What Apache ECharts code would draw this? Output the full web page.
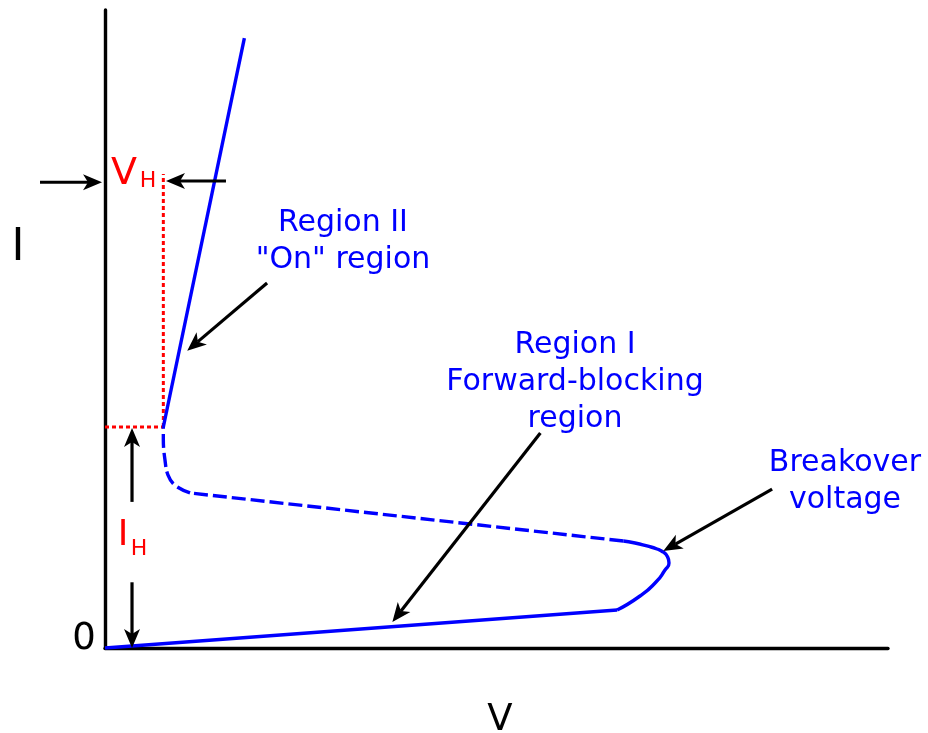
<!DOCTYPE html>
<html>
<head>
<meta charset="utf-8">
<title>Thyristor I-V characteristic</title>
<script src="https://cdn.jsdelivr.net/npm/echarts@6/dist/echarts.min.js"></script>
<style>
  html, body { margin: 0; padding: 0; background: #fff; }
  #chart { width: 928px; height: 733px; }
</style>
</head>
<body>
<div id="chart"></div>
<script>
// Anode voltage V (x) and anode current I (y), both in relative units 0..100.

// Forward-blocking region: small leakage current rising slowly with voltage
const forwardBlocking = [[0, 0], [65.4, 5.96]];
// Knee around the breakover voltage
const breakoverBend = [
  [65.4, 5.96], [68.33, 8.15], [70.37, 10.34], [71.52, 12.23], [72.03, 13.32],
  [71.78, 14.42], [71.26, 15.05], [70.5, 15.52], [69.22, 15.99], [67.69, 16.46], [66.2, 16.77]
];
// Negative-resistance transition (unstable, drawn dashed)
const transition = [[66.2, 16.77], [10.86, 24.3]];
const holdingBend = [
  [10.86, 24.3], [8.94, 25.5], [8.05, 27.1], [7.66, 29.47], [7.45, 32.6], [7.45, 34.64]
];
// "On" region: steep conduction line above the holding current
const onRegion = [[7.45, 34.64], [17.8, 95.6]];

// Holding point markers
const holdingVoltage = 7.45;
const holdingCurrent = 34.64;
const vhMarkerTop = 74.3;
const vhGuide = [[holdingVoltage, holdingCurrent], [holdingVoltage, vhMarkerTop]];
const ihGuide = [[0, holdingCurrent], [holdingVoltage, holdingCurrent]];

// Annotation arrows: [fromV, fromI, toV, toI]
const arrows = [
  [-8.3, 73.0, -0.38, 73.0],     // V_H, from the left
  [15.45, 73.2, 7.79, 73.2],     // V_H, from the right
  [3.45, 22.9, 3.45, 34.5],      // I_H, upward
  [3.45, 10.3, 3.45, 0],         // I_H, downward
  [20.7, 57.2, 10.5, 46.6],      // "On" region
  [55.6, 33.7, 36.7, 4.08],      // forward-blocking region
  [85.2, 24.9, 71.3, 15.2]       // breakover voltage
];

const BLUE = '#0000ff';
const RED = '#ff0000';
const FONT = '"DejaVu Sans", "Noto Sans", sans-serif';

function curve(data, dashed, smooth) {
  return {
    type: 'line',
    data: data,
    showSymbol: false,
    smooth: smooth || false,
    lineStyle: { color: BLUE, width: 3.4, type: dashed ? [14, 5] : 'solid', cap: 'butt', join: 'round' },
    z: 3
  };
}

function guide(data) {
  return {
    type: 'line',
    data: data,
    showSymbol: false,
    lineStyle: { color: RED, width: 3, type: [4, 3] },
    z: 2
  };
}

function renderArrow(params, api) {
  const p1 = api.coord([api.value(0), api.value(1)]);
  const p2 = api.coord([api.value(2), api.value(3)]);
  const dx = p2[0] - p1[0], dy = p2[1] - p1[1];
  const len = Math.hypot(dx, dy);
  const ux = dx / len, uy = dy / len;
  const nx = -uy, ny = ux;
  const L = 19, W = 8, N = 14;
  const back = [p2[0] - ux * L, p2[1] - uy * L];
  const notch = [p2[0] - ux * N, p2[1] - uy * N];
  return {
    type: 'group',
    children: [
      { type: 'line', shape: { x1: p1[0], y1: p1[1], x2: notch[0], y2: notch[1] },
        style: { stroke: '#000', lineWidth: 3.2 } },
      { type: 'polygon',
        shape: { points: [p2, [back[0] + nx * W, back[1] + ny * W], notch, [back[0] - nx * W, back[1] - ny * W]] },
        style: { fill: '#000' } }
    ]
  };
}

function label(text, x, y, size, color, lineHeight) {
  return {
    type: 'text', x: x, y: y, z: 10,
    style: {
      text: text, fill: color, font: size + 'px ' + FONT,
      align: 'center', verticalAlign: 'middle', lineHeight: lineHeight || Math.round(size * 1.3)
    }
  };
}

const chart = echarts.init(document.getElementById('chart'), null, { renderer: 'canvas' });
chart.setOption({
  animation: false,
  backgroundColor: '#fff',
  grid: { left: 105, right: 40, top: 10, bottom: 85 },
  xAxis: {
    type: 'value', min: 0, max: 100,
    axisLine: { show: true, lineStyle: { color: '#000', width: 3.4 } },
    axisTick: { show: false }, axisLabel: { show: false }, splitLine: { show: false }
  },
  yAxis: {
    type: 'value', min: 0, max: 100,
    axisLine: { show: true, lineStyle: { color: '#000', width: 3.4 } },
    axisTick: { show: false }, axisLabel: { show: false }, splitLine: { show: false }
  },
  series: [
    guide(vhGuide),
    guide(ihGuide),
    curve(forwardBlocking, false, false),
    curve(breakoverBend, false, 0.6),
    curve(transition, true, false),
    curve(holdingBend, true, 0.4),
    curve(onRegion, false, false),
    {
      type: 'custom',
      data: arrows,
      renderItem: renderArrow,
      encode: { x: [0, 2], y: [1, 3] },
      clip: false,
      silent: true,
      z: 5
    }
  ],
  graphic: [
    label('I', 18, 249, 44, '#000'),
    label('0', 84, 639, 37, '#000'),
    label('V', 500, 720, 37, '#000'),
    label('V', 124, 174, 38, RED),
    label('H', 148, 181, 22, RED),
    label('I', 123, 536, 36, RED),
    label('H', 139, 549, 22, RED),
    label('Region II\n"On" region', 343, 242, 30, BLUE, 37),
    label('Region I\nForward-blocking\nregion', 575, 382, 30, BLUE, 37),
    label('Breakover\nvoltage', 845, 482, 30, BLUE, 37)
  ]
});
</script>
</body>
</html>
